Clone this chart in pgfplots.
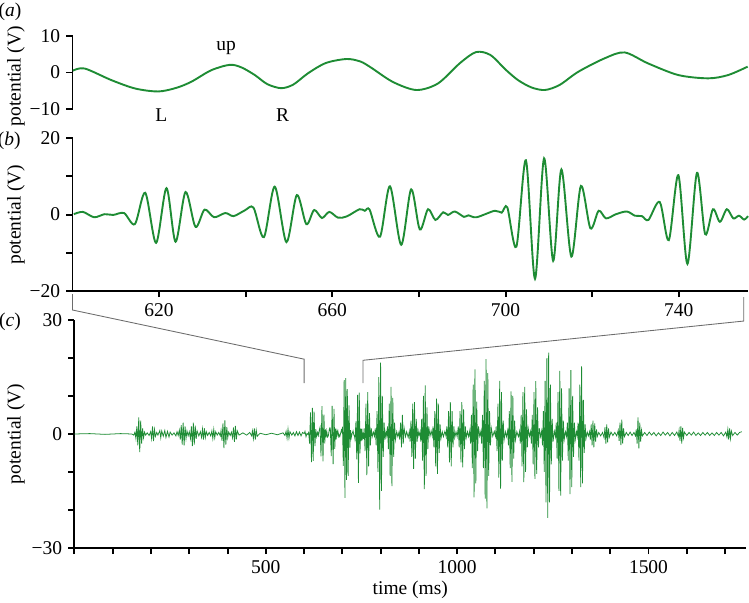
\documentclass[border=0pt]{standalone}
\usepackage{fontspec}
\setmainfont{Liberation Serif}
\usepackage{pgfplots}
\pgfplotsset{compat=1.18}
\definecolor{sig}{RGB}{30,140,52}
\newcommand{\fs}{\fontsize{11.3}{13}\selectfont}
\begin{document}
\begin{tikzpicture}
\path[use as bounding box] (0pt,0pt) rectangle (434.4pt,-349.7pt);
\pgfplotsset{
  base/.style={
    scale only axis, clip=false,
    axis line style={line width=1.15pt, black},
    every tick/.style={line width=1.15pt, black},
    major tick length=3.6pt,
    tick align=outside,
    /pgf/number format/assume math mode=true,
    tick label style={font=\fs},
    label style={font=\fs},
    ylabel={potential (V)},
  }
}
% ---------------- (a) ----------------
\begin{axis}[base, at={(42.05pt,-63.2pt)}, anchor=south west,
  width=391.8pt, height=42.3pt,
  xmin=600, xmax=756, ymin=-10, ymax=10,
  axis y line*=left, axis x line=none,
  ytick={-10,0,10}, yticklabels={−10,0,10},
  ylabel style={at={(axis description cs:-0.0836,0.45)}, anchor=center}]
\addplot[sig, line width=1.1pt, smooth] coordinates {
(600.1,0.5) (602.8,1.1) (609.0,-2.1) (614.5,-4.4) (619.8,-5.2) (624,-4.2) (627.5,-2.5) (632,0.6) (636.3,2.1)
(639,1.4) (642.1,-0.7) (645,-3.2) (648.2,-4.3) (651,-3.3) (654.4,-0.2) (658.5,2.6) (663.3,3.7) (666.5,3.0) (669.0,1.3)
(674,-2.6) (679.4,-4.8) (684.4,-3.0) (689.5,2.6) (693.2,5.6) (696.5,4.8) (700,0.8) (702.9,-2.1) (706,-4.1) (709.1,-4.8)
(712.5,-3.4) (716.8,0.2) (722.9,3.9) (727.5,5.5) (732.9,2.5) (739.9,-0.7) (746.8,-1.6) (751.4,-0.7) (755.9,1.6)
};
\node[font=\fs] at (axis cs:635.5,6.6) {up};
\node[font=\fs] at (axis cs:620.5,-11.6) {L};
\node[font=\fs] at (axis cs:648.5,-11.6) {R};
\end{axis}
% ---------------- (b) ----------------
\begin{axis}[base, at={(42.05pt,-168.8pt)}, anchor=south west,
  width=391.8pt, height=88.7pt,
  xmin=600, xmax=756, ymin=-20, ymax=20,
  axis y line*=left, axis x line*=bottom,
  ytick={-20,-10,0,10,20}, yticklabels={−20,,0,,20},
  xtick={620,640,...,740}, xticklabels={620,,660,,700,,740},
  ylabel style={at={(axis description cs:-0.0836,0.5)}, anchor=center}]
\addplot[sig, line width=1.1pt, smooth] coordinates {
(600.3,0.1) (602.4,0.7) (605,-0.7) (607.4,0.1) (609.4,-0.1) (611.9,0.4)
(614.4,-2.5) (616.8,5.7) (619.3,-7.4) (621.7,6.9) (623.8,-7.1) (626.1,5.9)
(628.4,-3.2) (630.5,1.3) (632.7,-0.7) (635.3,0.4) (637.2,-0.4) (639.8,1.1)
(641.8,1.8) (644.2,-5.9) (646.7,7.3) (649.4,-7.2) (651.8,5.1) (654,-2.5)
(655.8,1.2) (657.6,-0.9) (659.3,0.7) (661.3,-0.8) (663.3,-0.5) (666.3,1.4)
(667.5,1.0) (668.6,1.3) (671,-5.8) (673.3,7.4) (675.9,-7.9) (678.2,6.6)
(680.2,-3.9) (682.1,1.4) (683.8,-1.4) (685.6,0.6) (686.7,-0.1) (688.3,0.8)
(690.4,-0.6) (691.4,-0.2) (693.3,-0.7) (697.5,1.0) (699.1,0.5) (700.4,1.9)
(702.5,-8.4) (704.7,14.2) (706.8,-16.8) (708.9,14.7) (711,-12.1) (712.9,11.8)
(715.2,-11.0) (717.4,7.5) (719.6,-3.6) (721.5,1.0) (723.2,-1.0) (725.5,0.1)
(728,0.8) (729.9,-0.3) (731.5,-0.4) (733,-1.4) (735.6,3.3) (737.7,-6.7)
(739.9,10.3) (742,-12.9) (744.2,10.9) (746.1,-5.1) (747.9,1.4) (749.5,-1.9)
(751.1,1.4) (752.6,-1.0) (753.9,-0.3) (755.1,-1.3) (756,-0.4)
};
\coordinate (bL) at (axis cs:600,-20);
\coordinate (bR) at (axis cs:755,-20);
\end{axis}
% ---------------- (c) ----------------
\begin{axis}[base, at={(43.2pt,-317.8pt)}, anchor=south west,
  width=389.5pt, height=132.2pt,
  xmin=0, xmax=1755, ymin=-30, ymax=30,
  axis y line*=left, axis x line*=bottom,
  ytick={-30,-20,...,30}, yticklabels={−30,,,0,,,30},
  xtick={0,100,...,1700}, xticklabels={,,,,,500,,,,,1000,,,,,1500,,},
  xlabel={time (ms)},
  xlabel style={at={(axis description cs:0.5,-0.184)}, anchor=center},
  ylabel style={at={(axis description cs:-0.0871,0.5)}, anchor=center}]
\addplot[sig, line width=0.45pt] coordinates {
(0,0) (40,0.1) (80,-0.1) (120,0.1) (150,0) (155,-0.3)
(158,0.5) (160.5,-1.2) (163,2.0) (165.5,-3.0) (168,4.4) (170.5,-4.8) (173,3.5) (175.5,-2.5) (178,1.5) (180.5,-1.0) (183,0.5) (186,-0.3)
(190,0.3) (195,-0.4)
(199,0.6) (201.5,-1.2) (204,2.0) (206.5,-1.9) (209,1.2) (211.5,-0.6)
(215,0.4) (218,-0.3)
(223,0.9) (225.5,-1.0) (228,0.8) (232,-0.6) (236,0.9) (239,-0.9) (243,0.7) (247,-0.8) (250,0.5)
(255,-0.3) (260,0.3) (265,-0.5) (268,0.6) (271,-0.4)
(274,1.0) (276.5,-1.5) (279,2.3) (281.5,-2.8) (284,3.0) (286.5,-3.0) (289,2.0) (291.5,-1.2) (294,0.8)
(297,-0.5) (300,0.6)
(303,-1.2) (305.5,2.0) (308,-3.2) (310.5,3.0) (313,-2.8) (315.5,2.2) (318,-1.3) (320.5,0.8)
(325,-0.5) (329,0.6)
(332,-0.9) (334.5,1.3) (337,-1.5) (339.5,1.5) (342,-0.9) (344.5,0.6)
(348,-0.4) (352,0.4) (356,-0.5)
(359,0.8) (361.5,-1.2) (364,1.2) (366.5,-1.0) (369,0.6)
(373,-0.3) (377,0.4) (381,-0.5)
(383,0.9) (385.5,-1.8) (388,2.8) (390.5,-3.7) (393,3.6) (395.5,-2.8) (398,1.8) (400.5,-1.0) (403,0.5)
(407,-0.4) (410,0.5)
(413,-1.0) (415.5,1.7) (418,-2.1) (420.5,2.1) (423,-1.4) (425.5,0.8)
(430,-0.3) (440,0.3) (450,-0.3) (458,0.4) (463,-0.5)
(465,0.8) (467.5,-1.2) (470,1.5) (472.5,-1.5) (475,1.0) (477.5,-0.6)
(485,0.2) (500,-0.2) (515,0.2) (530,-0.2) (545,0.3) (550,-0.4)
(553,0.7) (555.5,-1.1) (558,1.3) (560.5,-1.1) (563,0.6)
(568,-0.3) (572,0.4) (576,-0.5) (580,0.6) (584,-0.4) (588,0.5) (592,-0.5) (596,0.4)
(600.3,0.1) (602.4,0.7) (605,-0.7) (607.4,0.1) (609.4,-0.1) (611.9,0.4)
(614.4,-2.5) (616.8,5.7) (619.3,-7.4) (621.7,6.9) (623.8,-7.1) (626.1,5.9)
(628.4,-3.2) (630.5,1.3) (632.7,-0.7) (635.3,0.4) (637.2,-0.4) (639.8,1.1)
(641.8,1.8) (644.2,-5.9) (646.7,7.3) (649.4,-7.2) (651.8,5.1) (654,-2.5)
(655.8,1.2) (657.6,-0.9) (659.3,0.7) (661.3,-0.8) (663.3,-0.5) (666.3,1.4)
(667.5,1.0) (668.6,1.3) (671,-5.8) (673.3,7.4) (675.9,-7.9) (678.2,6.6)
(680.2,-3.9) (682.1,1.4) (683.8,-1.4) (685.6,0.6) (686.7,-0.1) (688.3,0.8)
(690.4,-0.6) (691.4,-0.2) (693.3,-0.7) (697.5,1.0) (699.1,0.5) (700.4,1.9)
(702.5,-8.4) (704.7,14.2) (706.8,-16.8) (708.9,14.7) (711,-12.1) (712.9,11.8)
(715.2,-11.0) (717.4,7.5) (719.6,-3.6) (721.5,1.0) (723.2,-1.0) (725.5,0.1)
(728,0.8) (729.9,-0.3) (731.5,-0.4) (733,-1.4) (735.6,3.3) (737.7,-6.7)
(739.9,10.3) (742,-12.9) (744.2,10.9) (746.1,-5.1) (747.9,1.4) (749.5,-1.9)
(751.1,1.4) (752.6,-1.0) (753.9,-0.3) (755.1,-1.3)
(757,1.5) (759.4,-4.5) (761.7,8.0) (764,-10.8) (766.3,11.0) (768.6,-8.5) (770.9,5.5) (773.2,-3.0) (775.5,1.5) (778,-0.7)
(781,0.5) (784,-0.6)
(786,1.5) (788.4,-3.0) (790.7,6.0) (793,-10.0) (795.3,15.0) (797.6,-19.9) (799.9,18.8) (802.2,-15.0) (804.5,10.0) (806.8,-6.0) (809.1,3.0) (811.4,-1.5)
(814,0.6) (816,-0.5)
(818,2.0) (820.3,-4.0) (822.6,8.0) (824.9,-11.0) (827.2,12.4) (829.5,-13.7) (831.8,9.5) (834.1,-6.0) (836.4,3.0) (838.7,-1.5)
(842,0.6) (845,-0.7) (848,0.5)
(850,-1.5) (852.3,3.0) (854.6,-3.5) (856.9,5.0) (859.2,-2.5) (861.5,1.5)
(865,-0.7) (868,0.6) (872,-0.9) (875,0.7)
(877,-2.0) (879.3,3.5) (881.6,-6.0) (883.9,8.0) (886.2,-9.2) (888.5,8.4) (890.8,-6.5) (893.1,4.0) (895.4,-2.0) (897.7,1.0)
(900,-0.5) (903,0.6)
(905,-2.0) (907.3,4.0) (909.6,-7.0) (911.9,10.0) (914.2,-14.5) (916.5,12.8) (918.8,-11.0) (921.1,7.0) (923.4,-4.0) (925.7,2.0)
(929,-0.6) (932,0.8) (935,-0.6)
(937,2.0) (939.3,-3.5) (941.6,6.0) (943.9,-8.5) (946.2,9.3) (948.5,-10.5) (950.8,8.0) (953.1,-5.0) (955.4,2.5) (957.7,-1.2)
(961,0.6) (964,-0.7) (968,0.7) (971,-0.6)
(973,2.0) (975.3,-3.5) (977.6,6.0) (979.9,-7.5) (982.2,8.4) (984.5,-8.5) (986.8,6.0) (989.1,-3.5) (991.4,2.0) (993.7,-1.0)
(997,0.6) (1000,-0.7)
(1003,2.0) (1005.3,-3.5) (1007.6,6.0) (1009.9,-7.5) (1012.2,8.4) (1014.5,-8.8) (1016.8,6.5) (1019.1,-4.0) (1021.4,2.0) (1023.7,-1.0)
(1027,0.6) (1030,-0.7) (1033,0.9)
(1035,-2.5) (1037.3,5.0) (1039.6,-9.0) (1041.9,13.0) (1044.2,-16.7) (1046.5,17.0) (1048.8,-13.0) (1051.1,8.5) (1053.4,-4.5) (1055.7,2.0)
(1059,-0.6) (1062,0.7)
(1064,-2.5) (1066.3,5.0) (1068.6,-9.0) (1070.9,14.0) (1073.2,-17.0) (1075.5,19.7) (1077.8,-19.6) (1080.1,16.0) (1082.4,-11.0) (1084.7,6.0) (1087,-3.0) (1089.3,1.5)
(1093,-0.6) (1097,0.7) (1100,-0.6)
(1102,2.0) (1104.3,-4.5) (1106.6,8.0) (1108.9,-11.5) (1111.2,14.0) (1113.5,-14.4) (1115.8,11.0) (1118.1,-7.0) (1120.4,3.5) (1122.7,-1.5)
(1126,0.6) (1129,-0.7) (1132,0.9)
(1134,-3.0) (1136.3,6.0) (1138.6,-9.0) (1140.9,11.2) (1143.2,-12.6) (1145.5,10.0) (1147.8,-6.5) (1150.1,3.5) (1152.4,-1.5)
(1156,0.6) (1160,-0.7) (1163,0.7)
(1165,-2.5) (1167.3,5.0) (1169.6,-8.5) (1171.9,11.0) (1174.2,-12.7) (1176.5,12.4) (1178.8,-10.0) (1181.1,6.5) (1183.4,-3.5) (1185.7,1.5)
(1189,-0.6) (1192,0.7)
(1194,-2.5) (1196.3,5.0) (1198.6,-8.0) (1200.9,11.0) (1203.2,-11.8) (1205.5,13.9) (1207.8,-10.5) (1210.1,7.0) (1212.4,-3.5) (1214.7,1.5)
(1218,-0.7) (1221,0.9)
(1223,-3.0) (1225.3,6.0) (1227.6,-10.0) (1229.9,14.0) (1232.2,-18.0) (1234.5,20.0) (1236.8,-22.1) (1239.1,21.4) (1241.4,-18.0) (1243.7,13.0) (1246,-8.0) (1248.3,4.0) (1250.6,-2.0)
(1254,0.7) (1257,-0.7)
(1259,3.0) (1261.3,-6.5) (1263.6,11.0) (1265.9,-15.0) (1268.2,16.6) (1270.5,-16.2) (1272.8,12.0) (1275.1,-7.0) (1277.4,3.5) (1279.7,-1.5)
(1283,0.6) (1286,-0.7)
(1288,3.0) (1290.3,-7.0) (1292.6,12.0) (1294.9,-15.8) (1297.2,16.8) (1299.5,-14.0) (1301.8,10.0) (1304.1,-6.0) (1306.4,3.0) (1308.7,-1.5)
(1312,0.6) (1314,-0.6)
(1316,3.0) (1318.3,-7.0) (1320.6,13.0) (1322.9,-14.0) (1325.2,17.8) (1327.5,-13.0) (1329.8,9.0) (1332.1,-5.0) (1334.4,2.5) (1336.7,-1.2)
(1340,0.5) (1343,-0.5) (1346,0.6)
(1348,-1.5) (1350.3,2.5) (1352.6,-3.0) (1354.9,3.5) (1357.2,-3.5) (1359.5,2.8) (1361.8,-2.0) (1364.1,1.2) (1366.4,-0.6)
(1370,0.4) (1375,-0.5) (1380,0.4)
(1384,-1.0) (1386.3,1.8) (1388.6,-2.5) (1390.9,2.5) (1393.2,-2.2) (1395.5,1.5) (1397.8,-0.8)
(1402,0.5) (1407,-0.4) (1412,0.4) (1417,-0.5)
(1421,1.0) (1423.3,-1.8) (1425.6,3.0) (1427.9,-2.9) (1430.2,3.8) (1432.5,-2.5) (1434.8,1.5) (1437.1,-0.7)
(1442,0.4) (1447,-0.4) (1452,0.5) (1457,-0.4) (1462,0.4) (1466,-0.5)
(1468,1.2) (1470.3,-2.5) (1472.6,4.4) (1474.9,-3.8) (1477.2,3.0) (1479.5,-2.0) (1481.8,1.0) (1484.1,-0.5)
(1490,0.4) (1496,-0.4) (1502,0.5) (1508,-0.3) (1514,0.4) (1520,-0.5) (1526,0.3) (1532,-0.4) (1538,0.5) (1544,-0.3)
(1550,0.4) (1556,-0.5) (1562,0.4) (1568,-0.4) (1574,0.5) (1578,-0.6)
(1580,1.0) (1582.3,-1.8) (1584.6,2.0) (1586.9,-2.5) (1589.2,1.6) (1591.5,-1.0) (1593.8,0.5)
(1600,-0.4) (1606,0.4) (1612,-0.3) (1618,0.5) (1624,-0.4) (1630,0.3) (1636,-0.4) (1642,0.4) (1648,-0.3) (1654,0.4)
(1660,-0.4) (1666,0.3) (1672,-0.4) (1678,0.4) (1684,-0.3) (1690,0.4) (1696,-0.5) (1702,0.5)
(1705,-0.8) (1707.3,1.2) (1709.6,-1.5) (1711.9,1.5) (1714.2,-1.2) (1716.5,0.8)
(1720,-0.4) (1726,0.4) (1732,-0.3) (1738,0.4) (1744,0.6)
};
\coordinate (cL1) at (axis cs:600,19.7);
\coordinate (cL2) at (axis cs:600,13.4);
\coordinate (cR1) at (axis cs:754,19.4);
\coordinate (cR2) at (axis cs:754,13.4);
\end{axis}
\draw[gray!85!black, line width=0.5pt] ([yshift=-1.8pt]bL) -- ([yshift=-11pt]bL) -- (cL1) -- (cL2);
\draw[gray!85!black, line width=0.5pt] ([yshift=-3.5pt]bR) -- ([yshift=-17.4pt]bR) -- (cR1) -- (cR2);
\node[font=\fs] at (5.8pt,-7pt) {(\textit{a})};
\node[font=\fs] at (5.4pt,-81.8pt) {(\textit{b})};
\node[font=\fs] at (5.8pt,-186.8pt) {(\textit{c})};
\end{tikzpicture}
\end{document}
